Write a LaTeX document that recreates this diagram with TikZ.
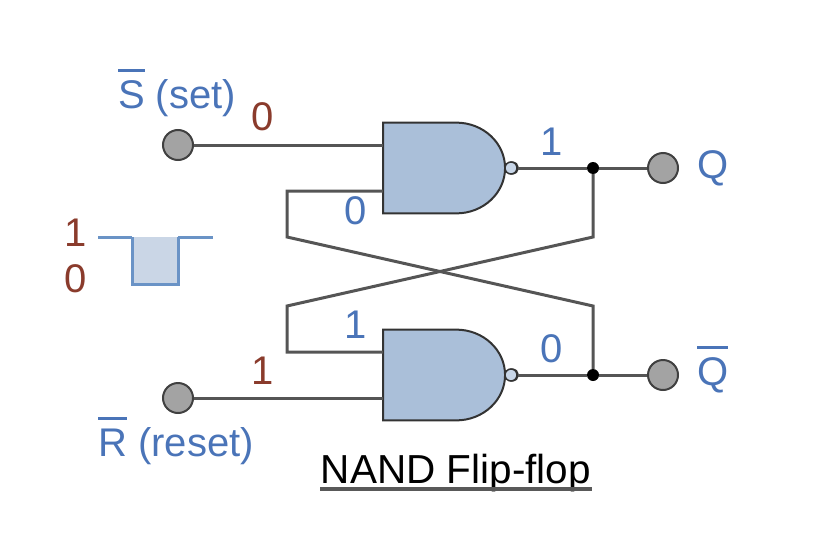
\documentclass[tikz,border=0pt]{standalone}
\usepackage{fontspec}
\setmainfont{Liberation Sans}
\usetikzlibrary{shapes.gates.logic.US}
\definecolor{gatefill}{HTML}{AABFD9}
\definecolor{bubblefill}{HTML}{C8D6E8}
\definecolor{wiregray}{HTML}{555555}
\definecolor{pinfill}{HTML}{A3A3A3}
\definecolor{lblue}{HTML}{4A74B8}
\definecolor{lred}{HTML}{8A3B2C}
\definecolor{waveline}{HTML}{6A93C6}
\definecolor{wavefill}{HTML}{CAD6E6}
\newcommand{\barred}[1]{\setbox0\hbox{#1}\rlap{\rule[36pt]{\wd0}{3pt}}\box0\relax}

\begin{document}
\begin{tikzpicture}[x=1pt,y=-1pt]
\tikzstyle{gate}=[nand gate US,draw=black!80,fill=gatefill,line width=2pt,logic gate inputs=nn,
  minimum width=122pt,minimum height=91pt,inner sep=0pt,logic gate inverted radius=6pt,
  anchor=center,yscale=0.93,transform shape]
\tikzstyle{bubble}=[shape=circle,draw=black!80,fill=bubblefill,line width=1.5pt,minimum size=12pt,inner sep=0pt]
\tikzstyle{pin}=[shape=circle,draw=black!75,fill=pinfill,line width=2pt,minimum size=30pt,inner sep=0pt]
\tikzstyle{dot}=[shape=circle,fill=black,minimum size=12pt,inner sep=0pt]
\tikzstyle{wire}=[draw=wiregray,line width=3pt,line join=miter]
\tikzstyle{blue label}=[text=lblue,font=\fontsize{40}{40}\selectfont,inner sep=0pt]
\tikzstyle{red label}=[text=lred,font=\fontsize{40}{40}\selectfont,inner sep=0pt]

\useasboundingbox (0,0) rectangle (822,557);

\node[gate] (top) at (440,168) {};
\node[gate] (bottom) at (440,375) {};
\node[bubble] (topbubble) at (511,168) {};
\node[bubble] (botbubble) at (511,375) {};

\node[pin] (s) at (178,145) {};
\node[pin] (r) at (178,398) {};
\node[pin] (q) at (663,168) {};
\node[pin] (qbar) at (663,375) {};
\node[dot] (topdot) at (593,168) {};
\node[dot] (botdot) at (593,375) {};

\coordinate (a) at (287,191);
\coordinate (b) at (287,237);
\coordinate (c) at (593,306);
\coordinate (d) at (593,237);
\coordinate (e) at (287,306);
\coordinate (f) at (287,352);

\path[wire] (s) -- (383,145);
\path[wire] (r) -- (383,398);
\path[wire] (383,191) -- (a) -- (b) -- (c) -- (botdot);
\path[wire] (topdot) -- (d) -- (e) -- (f) -- (383,352);
\path[wire] (topbubble) -- (topdot) -- (q);
\path[wire] (botbubble) -- (botdot) -- (qbar);

% input pulse
\path[draw=waveline,fill=wavefill,line width=3pt] (132,237) -- (132,284) -- (178,284) -- (178,237);
\path[draw=waveline,line width=3pt] (98,237) -- (132,237) (178,237) -- (213,237);

\node[blue label,anchor=base west] (setlabel) at (118,108) {\barred{S} (set)};
\node[blue label,anchor=base west] (resetlabel) at (98,456) {\barred{R} (reset)};
\node[blue label,anchor=base west] (qlabel) at (697,178) {Q};
\node[blue label,anchor=base west] (qbarlabel) at (697,385) {\barred{Q}};
\node[blue label] (topout) at (552,142) {1};
\node[blue label] (topin) at (356,211) {0};
\node[blue label] (botin) at (356,325) {1};
\node[blue label] (botout) at (552,349) {0};
\node[red label] (sval) at (263,117) {0};
\node[red label] (rval) at (263,371) {1};
\node[red label] (high) at (76,233) {1};
\node[red label] (low) at (76,279) {0};

\node[font=\fontsize{40.5}{40.5}\selectfont,inner sep=0pt,anchor=base] (title) at (456,483) {NAND Flip-flop};
\path[draw=black!65,line width=4pt] (320,489) -- (592,489);
\end{tikzpicture}
\end{document}
